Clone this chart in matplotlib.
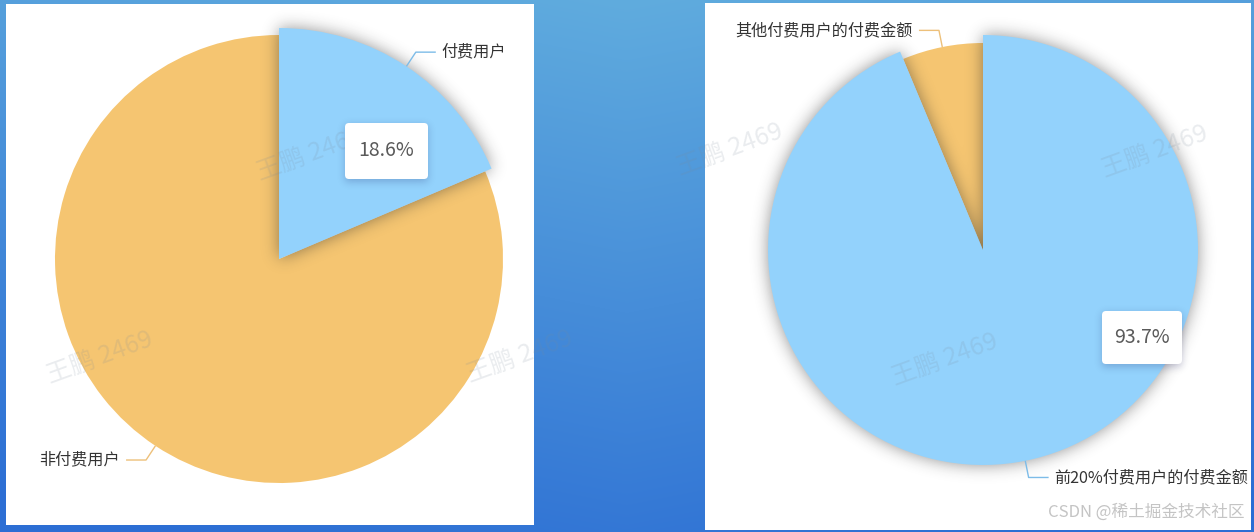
import numpy as np
import matplotlib
matplotlib.use('Agg')
import matplotlib.pyplot as plt
from matplotlib.patches import Rectangle, FancyBboxPatch

plt.rcParams['font.family'] = ['Noto Sans CJK SC', 'DejaVu Sans']

W, H = 1254, 532

# data
left_labels = ['付费用户', '非付费用户']
left_values = [18.6, 81.4]
right_labels = ['前20%付费用户的付费金额', '其他付费用户的付费金额']
right_values = [93.7, 6.3]
watermark = '王鹏 2469'
footer = 'CSDN @稀土掘金技术社区'

BLUE = '#93D2FC'
ORANGE = '#F5C571'
BLUE_LINE = '#7DBCE8'
ORANGE_LINE = '#EDC07A'


def gblur(img, sigma):
    n = int(sigma * 3)
    x = np.arange(-n, n + 1)
    k = np.exp(-x**2 / (2 * sigma**2))
    k /= k.sum()
    img = np.array([np.convolve(r, k, mode='same') for r in img])
    img = np.array([np.convolve(c, k, mode='same') for c in img.T]).T
    return img


yy, xx = np.mgrid[0:H, 0:W] + 0.5


def wedge_mask(cx, cy, r, t1, t2):
    dx = xx - cx
    dy = cy - yy
    ang = np.degrees(np.arctan2(dy, dx)) % 360
    inside = np.hypot(dx, dy) <= r
    return (inside & (((ang - t1) % 360) <= (t2 - t1))).astype(float)


fig = plt.figure(figsize=(W / 100, H / 100), dpi=100)
ax = fig.add_axes([0, 0, 1, 1])

# blue gradient background
ty = (yy / H)
tx = (xx / W)
top = np.array([96, 172, 222]) / 255
bot = np.array([44, 110, 212]) / 255
t = np.clip(0.85 * ty + 0.2 * np.abs(tx - 0.5) * 2, 0, 1)
bg = top[None, None, :] * (1 - t[..., None]) + bot[None, None, :] * t[..., None]
ax.imshow(bg, extent=(0, W, 0, H), origin='upper', zorder=0)

# white panels (pixel coords, top-left origin)
for x0, y0, x1, y1 in [(6, 4, 534, 525), (705, 3, 1251, 530)]:
    ax.add_patch(Rectangle((x0, H - y1), x1 - x0, y1 - y0, fc='white', ec='none', zorder=1))


def draw_pie(values, labels, colors, line_colors, cx, cy, r, r_hi, hi):
    wedges, _ = ax.pie(values, colors=colors, startangle=90, counterclock=False,
                       center=(cx, H - cy), radius=r, wedgeprops=dict(linewidth=0))
    for w in wedges:
        w.set_zorder(2)
    wedges[hi].set_radius(r_hi)
    wedges[hi].set_zorder(4)
    # soft shadow under the emphasized slice
    w = wedges[hi]
    m = wedge_mask(cx, cy, r_hi, w.theta1, w.theta2)
    sh = gblur(m, 8)
    rgba = np.zeros((H, W, 4))
    rgba[..., :3] = 0.15
    rgba[..., 3] = np.clip(sh * 0.5, 0, 1)
    ax.imshow(rgba, extent=(0, W, 0, H), origin='upper', zorder=3)
    # leader lines + labels
    for i, w in enumerate(wedges):
        rr = r_hi if i == hi else r
        a = np.radians((w.theta1 + w.theta2) / 2)
        ca, sa = np.cos(a), np.sin(a)
        p0 = (cx + rr * ca, H - cy + rr * sa)
        p1 = (cx + (rr + 17) * ca, H - cy + (rr + 17) * sa)
        s = 1 if ca >= 0 else -1
        p2 = (p1[0] + s * 20, p1[1])
        ax.plot([p0[0], p1[0], p2[0]], [p0[1], p1[1], p2[1]], color=line_colors[i],
                lw=1, zorder=5, solid_capstyle='butt')
        ax.text(p2[0] + s * 6, p2[1], labels[i], ha='left' if s > 0 else 'right',
                va='center', fontsize=11.6, color='#333333', zorder=6)


draw_pie(left_values, left_labels, [BLUE, ORANGE], [BLUE_LINE, ORANGE_LINE],
         279, 259, 224, 231, 0)
draw_pie(right_values, right_labels, [BLUE, ORANGE], [BLUE_LINE, ORANGE_LINE],
         983, 250, 207, 215, 0)

# watermarks
for wx, wy in [(310, 155), (100, 358), (520, 357), (730, 150), (1155, 152), (945, 360)]:
    ax.text(wx, H - wy, watermark, rotation=20, ha='center', va='center',
            fontsize=18, color='#7a8a9a', alpha=0.16, zorder=7)

# percentage boxes
boxes = [(345, 123, 428, 179, left_values[0]), (1102, 311, 1182, 364, right_values[0])]
bm = np.zeros((H, W))
for x0, y0, x1, y1, v in boxes:
    bm[y0 + 2:y1 + 3, x0:x1] = 1
bs = gblur(bm, 4)
rgba = np.zeros((H, W, 4))
rgba[..., 2] = 0.3
rgba[..., 3] = np.clip(bs * 0.2, 0, 1)
ax.imshow(rgba, extent=(0, W, 0, H), origin='upper', zorder=8)
for x0, y0, x1, y1, v in boxes:
    ax.add_patch(FancyBboxPatch((x0, H - y1), x1 - x0, y1 - y0,
                                boxstyle='round,pad=0,rounding_size=4',
                                fc='white', ec='none', zorder=9))
    ax.text((x0 + x1) / 2, H - (y0 + y1) / 2, f'{v}%', ha='center', va='center',
            fontsize=14, color='#5a5a5a', zorder=10)

ax.text(1245, H - 512, footer, ha='right', va='center', fontsize=12,
        color='#c4c4c4', zorder=10)

ax.set_xlim(0, W)
ax.set_ylim(0, H)
ax.set_aspect('auto')
ax.axis('off')
fig.savefig('out.png', dpi=100)
